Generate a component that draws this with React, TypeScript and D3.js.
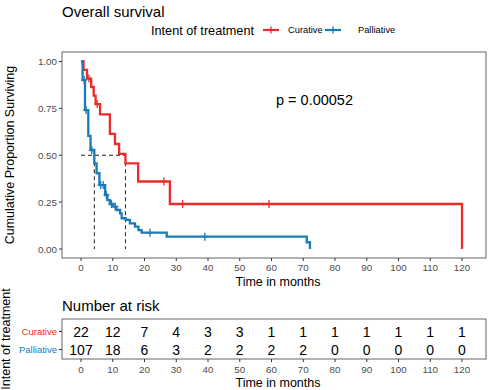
import React from 'react';
import * as d3 from 'd3';

// ==== data

const curativeTimes = [0, 0.8, 1.9, 3.2, 4.0, 4.6, 6.0, 9.1, 10.7, 12.0, 14.0, 18.0, 28.0, 120];
const curativeSurv = [1, 0.955, 0.909, 0.864, 0.818, 0.773, 0.718, 0.614, 0.56, 0.507, 0.457, 0.36, 0.24, 0];
const curativeCensorTimes = [2.5, 5.1, 26.1, 32.0, 59.2];

const palliativeTimes = [0, 0.5, 1.26, 2.3, 3.0, 4.2, 4.9, 5.8, 7.6, 8.3, 9.1, 10.2, 11.2, 12.3, 12.8, 14.1, 15.4, 17.0, 18.1, 19.1, 27.0, 71.1, 72.1];
const palliativeSurv = [1, 0.901, 0.741, 0.603, 0.528, 0.457, 0.404, 0.341, 0.288, 0.261, 0.24, 0.226, 0.208, 0.19, 0.164, 0.155, 0.137, 0.119, 0.101, 0.087, 0.066, 0.036, 0];
const palliativeCensorTimes = [1.0, 1.6, 3.4, 6.2, 7.0, 8.0, 9.6, 10.8, 21.7, 39.0];

const medianTimes = [4.2, 14.0];

const groups = ['Curative', 'Palliative'];
const groupColors = ['#EC2B2B', '#1A7BBB'];

const riskTimes = [0, 10, 20, 30, 40, 50, 60, 70, 80, 90, 100, 110, 120];
const curativeRisk = [22, 12, 7, 4, 3, 3, 1, 1, 1, 1, 1, 1, 1];
const palliativeRisk = [107, 18, 6, 3, 2, 2, 2, 2, 0, 0, 0, 0, 0];

const yTicks = [0, 0.25, 0.5, 0.75, 1];
const pValueText = 'p = 0.00052';

// ====

const FONT = '"Liberation Sans", Arial, sans-serif';
const AXIS_GREY = '#4D4D4D';
const BORDER = '#666666';

const panel = { left: 62, right: 486, top: 52, bottom: 258 };
const riskPanel = { top: 319, bottom: 359 };

const x = d3.scaleLinear().domain([0, 120]).range([81, 462]);
const y = d3.scaleLinear().domain([0, 1]).range([249, 61.5]);

// step value of a KM curve at time t
function survAt(times: number[], surv: number[], t: number) {
    const i = d3.bisectRight(times, t) - 1;
    return surv[Math.max(0, i)];
}

const stepLine = d3.line<[number, number]>()
    .x((d) => x(d[0]))
    .y((d) => y(d[1]))
    .curve(d3.curveStepAfter);

function Censors({ times, curveT, curveS, color }: any) {
    return (
        <g stroke={color} strokeWidth={1.3}>
            {times.map((t: number, i: number) => {
                const cx = x(t);
                const cy = y(survAt(curveT, curveS, t));
                return (
                    <g key={i}>
                        <line x1={cx} x2={cx} y1={cy - 4} y2={cy + 4} />
                        <line x1={cx - 3} x2={cx + 3} y1={cy} y2={cy} />
                    </g>
                );
            })}
        </g>
    );
}

export default function App() {
    const curves = [
        { t: curativeTimes, s: curativeSurv, c: curativeCensorTimes },
        { t: palliativeTimes, s: palliativeSurv, c: palliativeCensorTimes },
    ];
    const riskRows = [curativeRisk, palliativeRisk];
    const rowY = d3.scalePoint<string>().domain(groups).range([331.5, 349.5]);

    return (
        <div style={{ position: 'absolute', left: 0, top: 0 }}>
            <svg width={488} height={390} style={{ display: 'block', background: '#fff' }} fontFamily={FONT}>
                {/* title + legend */}
                <text x={62} y={17} fontSize={15} fill="#000">Overall survival</text>
                <text x={151} y={34.5} fontSize={12.7} fill="#000">Intent of treatment</text>
                {groups.map((g, i) => {
                    const kx = i === 0 ? 263 : 325;
                    return (
                        <g key={g}>
                            <line x1={kx} x2={kx + 16} y1={30} y2={30} stroke={groupColors[i]} strokeWidth={2.2} />
                            <line x1={kx + 8} x2={kx + 8} y1={26.5} y2={33.5} stroke={groupColors[i]} strokeWidth={1.3} />
                            <text x={i === 0 ? 288 : 358} y={33.2} fontSize={9.3} fill="#000">{g}</text>
                        </g>
                    );
                })}

                {/* main panel */}
                <rect x={panel.left} y={panel.top} width={panel.right - panel.left} height={panel.bottom - panel.top}
                    fill="none" stroke={BORDER} strokeWidth={1} />
                {yTicks.map((v) => (
                    <g key={v}>
                        <line x1={panel.left - 3} x2={panel.left} y1={y(v)} y2={y(v)} stroke="#333" />
                        <text x={panel.left - 5} y={y(v) + 3.5} fontSize={9.8} textAnchor="end" fill={AXIS_GREY}>{v.toFixed(2)}</text>
                    </g>
                ))}
                {riskTimes.map((t) => (
                    <g key={t}>
                        <line x1={x(t)} x2={x(t)} y1={panel.bottom} y2={panel.bottom + 3} stroke="#333" />
                        <text x={x(t)} y={270.5} fontSize={9.8} textAnchor="middle" fill={AXIS_GREY}>{t}</text>
                    </g>
                ))}
                <text x={278} y={285.5} fontSize={12.5} textAnchor="middle" fill="#000">Time in months</text>
                <text transform={`translate(14,${(panel.top + panel.bottom) / 2}) rotate(-90)`} fontSize={12.5}
                    textAnchor="middle" fill="#000">Cumulative Proportion Surviving</text>

                {/* median lines */}
                <g stroke="#222" strokeWidth={1} strokeDasharray="4,3" fill="none">
                    <line x1={x(0)} x2={x(d3.max(medianTimes) as number)} y1={y(0.5)} y2={y(0.5)} />
                    {medianTimes.map((m) => (
                        <line key={m} x1={x(m)} x2={x(m)} y1={y(0.5)} y2={y(0)} />
                    ))}
                </g>

                {/* curves */}
                {curves.map((cv, i) => (
                    <g key={i}>
                        <path d={stepLine(cv.t.map((t, j) => [t, cv.s[j]] as [number, number])) as string}
                            fill="none" stroke={groupColors[i]} strokeWidth={2.3} />
                        <Censors times={cv.c} curveT={cv.t} curveS={cv.s} color={groupColors[i]} />
                    </g>
                ))}

                <text x={276} y={105} fontSize={14.5} fill="#000">{pValueText}</text>

                {/* risk table */}
                <text x={62} y={310.5} fontSize={15} fill="#000">Number at risk</text>
                <rect x={panel.left} y={riskPanel.top} width={panel.right - panel.left} height={riskPanel.bottom - riskPanel.top}
                    fill="none" stroke={BORDER} strokeWidth={1} />
                {groups.map((g, i) => (
                    <g key={g}>
                        <line x1={panel.left - 3} x2={panel.left} y1={rowY(g)} y2={rowY(g)} stroke="#333" />
                        <text x={panel.left - 5} y={(rowY(g) as number) + 3.3} fontSize={9.5} textAnchor="end" fill={groupColors[i]}>{g}</text>
                        {riskRows[i].map((n, j) => (
                            <text key={j} x={x(riskTimes[j])} y={(rowY(g) as number) + 5} fontSize={14} textAnchor="middle"
                                fill="#000">{n}</text>
                        ))}
                    </g>
                ))}
                {riskTimes.map((t) => (
                    <g key={t}>
                        <line x1={x(t)} x2={x(t)} y1={riskPanel.bottom} y2={riskPanel.bottom + 3} stroke="#333" />
                        <text x={x(t)} y={372.5} fontSize={9.8} textAnchor="middle" fill={AXIS_GREY}>{t}</text>
                    </g>
                ))}
                <text x={278} y={386.5} fontSize={12.5} textAnchor="middle" fill="#000">Time in months</text>
                <text transform={`translate(10,339) rotate(-90)`} fontSize={12.5} textAnchor="middle" fill="#000">Intent of treatment</text>
            </svg>
        </div>
    );
}
